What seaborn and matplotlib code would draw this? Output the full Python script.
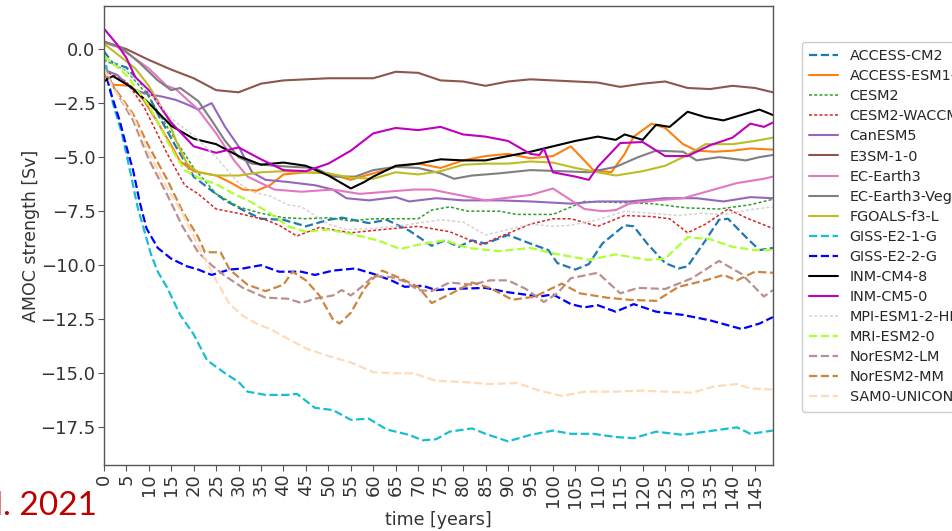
import matplotlib
matplotlib.use("Agg")
import matplotlib.pyplot as plt
import numpy as np
import pandas as pd
import seaborn as sns

# ---- AMOC strength anomaly [Sv] per model: years and values ----
years_access_cm2 = [0, 2, 5, 9, 12, 16, 20, 24, 27, 31, 35, 40, 45, 50, 53, 59, 63, 68, 73, 76, 79, 82, 85, 90, 95, 99, 101, 105, 108, 111, 116, 118, 121, 125, 128, 130, 134, 137, 139, 143, 146, 149]
amoc_access_cm2 = [-0.1, -0.65, -0.85, -1.75, -3.0, -4.5, -5.9, -6.55, -7.0, -7.45, -7.85, -7.9, -8.2, -7.9, -7.8, -8.05, -7.9, -8.4, -9.1, -8.85, -9.15, -8.85, -9.0, -8.6, -9.0, -9.3, -9.9, -10.2, -9.95, -9.0, -8.15, -8.2, -9.0, -9.9, -10.15, -10.05, -8.85, -7.9, -7.85, -8.7, -9.3, -9.2]

years_access_esm = [0, 2, 6, 9, 12, 15, 17, 20, 25, 28, 31, 34, 37, 40, 45, 50, 55, 60, 65, 70, 75, 80, 85, 90, 95, 100, 104, 107, 109, 113, 116, 118, 122, 125, 129, 132, 136, 140, 144, 149]
amoc_access_esm = [-1.2, -1.65, -1.7, -2.4, -3.4, -4.45, -5.2, -5.65, -5.85, -6.15, -6.5, -6.55, -6.3, -5.8, -5.7, -5.75, -6.05, -5.75, -5.45, -5.3, -5.5, -5.15, -4.95, -4.85, -5.05, -4.95, -4.5, -5.15, -5.6, -5.7, -4.85, -4.05, -3.45, -3.65, -4.4, -4.7, -4.75, -4.7, -4.6, -4.65]

years_cesm2 = [0, 5, 10, 15, 20, 25, 30, 35, 40, 45, 50, 55, 60, 65, 70, 73, 77, 81, 88, 92, 100, 107, 115, 122, 130, 137, 144, 149]
amoc_cesm2 = [-0.5, -1.0, -2.2, -3.9, -5.5, -6.7, -7.3, -7.6, -7.8, -7.85, -7.8, -7.95, -7.85, -7.85, -7.85, -7.45, -7.3, -7.5, -7.5, -7.65, -7.65, -7.05, -7.1, -7.15, -7.35, -7.4, -7.2, -6.95]

years_cesm2_waccm = [0, 5, 9, 14, 18, 21, 25, 30, 36, 39, 43, 48, 55, 62, 70, 77, 84, 88, 95, 100, 104, 110, 116, 122, 126, 130, 134, 139, 143, 149]
amoc_cesm2_waccm = [-1.0, -1.5, -2.7, -4.8, -6.3, -6.7, -7.4, -7.6, -7.9, -8.15, -8.65, -8.25, -8.5, -8.35, -8.2, -8.45, -9.05, -8.7, -8.1, -7.85, -7.85, -8.2, -7.7, -7.75, -7.85, -8.5, -8.1, -7.4, -7.8, -8.3]

years_canesm5 = [0, 3, 6, 9, 13, 16, 19, 21, 24, 27, 30, 33, 36, 41, 47, 51, 54, 59, 65, 68, 74, 80, 88, 95, 104, 110, 117, 125, 132, 138, 144, 149]
amoc_canesm5 = [-0.95, -1.2, -1.8, -2.05, -2.2, -2.35, -2.6, -2.8, -2.5, -3.6, -4.5, -5.7, -6.05, -6.15, -6.3, -6.5, -6.9, -7.0, -6.85, -7.05, -6.9, -7.0, -7.0, -7.05, -7.15, -7.05, -7.05, -6.9, -6.9, -7.05, -6.85, -6.9]

years_e3sm = [0, 5, 10, 15, 20, 25, 30, 35, 40, 45, 50, 55, 60, 65, 70, 75, 80, 85, 90, 95, 100, 105, 110, 115, 120, 125, 130, 135, 140, 145, 149]
amoc_e3sm = [0.35, 0.0, -0.5, -0.95, -1.35, -1.9, -2.0, -1.6, -1.45, -1.4, -1.35, -1.35, -1.35, -1.05, -1.1, -1.45, -1.5, -1.7, -1.5, -1.4, -1.45, -1.5, -1.55, -1.75, -1.6, -1.5, -1.8, -1.85, -1.7, -1.8, -2.0]

years_ec_earth3 = [0, 3, 6, 10, 14, 16, 21, 25, 29, 32, 35, 38, 44, 51, 57, 63, 69, 73, 79, 85, 91, 95, 100, 103, 107, 111, 114, 117, 123, 129, 135, 141, 147, 149]
amoc_ec_earth3 = [0.3, 0.1, -0.3, -0.9, -1.7, -1.85, -2.8, -3.9, -5.15, -5.9, -6.2, -6.5, -6.6, -6.5, -6.7, -6.6, -6.5, -6.5, -6.75, -7.0, -6.85, -6.75, -6.45, -6.85, -7.4, -7.5, -7.45, -7.15, -7.0, -6.9, -6.55, -6.2, -6.0, -5.9]

years_ec_earth3_veg = [0, 4, 8, 12, 15, 17, 21, 24, 27, 30, 33, 38, 42, 47, 51, 56, 60, 65, 70, 75, 78, 82, 88, 95, 102, 108, 114, 119, 123, 129, 132, 137, 143, 146, 149]
amoc_ec_earth3_veg = [0.35, 0.05, -0.65, -1.45, -1.9, -1.8, -2.4, -3.3, -4.25, -5.0, -5.3, -5.4, -5.45, -5.5, -5.9, -5.9, -5.6, -5.45, -5.5, -5.75, -6.0, -5.85, -5.75, -5.6, -5.65, -5.7, -5.45, -5.0, -4.7, -4.75, -5.15, -5.0, -5.15, -5.0, -4.9]

years_fgoals = [0, 4, 7, 10, 14, 16, 18.5, 21, 25, 30, 35, 40, 45, 50, 55, 60, 65, 70, 75, 80, 85, 90, 95, 100, 105, 110, 114, 120, 125, 130, 134, 140, 145, 149]
amoc_fgoals = [0.25, -0.4, -0.9, -1.7, -3.1, -4.2, -5.3, -5.7, -5.85, -5.85, -5.7, -5.65, -5.7, -5.75, -5.95, -6.0, -5.7, -5.8, -5.65, -5.35, -5.3, -5.3, -5.2, -5.25, -5.5, -5.7, -5.85, -5.65, -5.4, -4.9, -4.4, -4.4, -4.25, -4.1]

years_giss_e2_1_g = [0, 2, 4, 6, 7.5, 9, 10.5, 12, 14, 17, 20, 23, 27, 30, 32, 36, 41, 43, 47, 51, 55, 59, 63, 68, 71, 74, 77, 82, 85, 90, 95, 100, 104, 109, 114, 118, 123, 129, 134, 141, 144, 149]
amoc_giss_e2_1_g = [-0.2, -2.5, -3.9, -5.8, -7.3, -8.4, -9.5, -10.3, -11.0, -12.3, -13.2, -14.4, -15.0, -15.4, -15.85, -16.0, -16.0, -15.95, -16.6, -16.7, -17.15, -17.1, -17.6, -17.85, -18.1, -18.05, -17.7, -17.55, -17.8, -18.15, -17.85, -17.65, -17.8, -17.8, -17.95, -18.0, -17.7, -17.85, -17.7, -17.5, -17.8, -17.65]

years_giss_e2_2_g = [0, 1.5, 3.5, 5, 6.5, 8, 9.5, 12, 15, 18.5, 21, 24, 28, 31, 35, 39, 44, 47, 51, 56, 60, 64, 67, 71, 74, 77, 85, 90, 97, 100, 104, 107, 110, 114, 118, 123, 129, 135, 142, 146, 149]
amoc_giss_e2_2_g = [-0.8, -2.0, -3.3, -4.5, -5.6, -7.1, -8.3, -9.2, -9.7, -10.05, -10.2, -10.45, -10.2, -10.15, -10.0, -10.3, -10.3, -10.45, -10.25, -10.15, -10.4, -10.7, -11.0, -10.95, -11.15, -11.1, -11.05, -11.25, -11.45, -11.35, -11.8, -11.95, -11.85, -12.15, -11.8, -12.15, -12.3, -12.55, -12.95, -12.7, -12.4]

years_inm_cm4_8 = [0, 2, 6, 10, 15, 20, 25, 30, 35, 40, 45, 50, 55, 58, 60, 65, 70, 75, 80, 85, 90, 95, 100, 105, 110, 114, 116, 120, 123, 126, 130, 134, 138, 142, 146, 149]
amoc_inm_cm4_8 = [-1.5, -1.25, -1.75, -2.5, -3.55, -4.15, -4.4, -4.95, -5.35, -5.25, -5.4, -5.85, -6.45, -6.15, -5.9, -5.4, -5.3, -5.1, -5.15, -5.15, -4.95, -4.75, -4.5, -4.25, -4.05, -4.2, -3.95, -4.2, -3.5, -3.6, -2.9, -3.15, -3.3, -3.05, -2.8, -3.05]

years_inm_cm5_0 = [0, 3, 5, 7, 10, 15, 20, 25, 30, 35, 40, 45, 50, 55, 60, 65, 70, 75, 80, 85, 90, 95, 97, 98, 100, 105, 108, 110, 115, 120, 125, 130, 135, 140, 144, 147, 149]
amoc_inm_cm5_0 = [0.95, 0.2, -0.4, -1.3, -1.9, -3.4, -4.5, -4.8, -4.55, -5.1, -5.6, -5.65, -5.3, -4.7, -3.9, -3.65, -3.75, -3.6, -3.95, -4.05, -4.25, -4.85, -4.9, -4.6, -5.7, -5.9, -6.05, -5.45, -4.35, -4.3, -4.95, -4.95, -4.45, -4.1, -3.45, -3.6, -3.4]

years_mpi = [0, 5, 10, 15, 20, 25, 30, 33, 37, 41, 44, 47, 50, 54, 60, 65, 70, 75, 80, 85, 90, 95, 100, 104, 110, 116, 122, 128, 133, 138, 145, 149]
amoc_mpi = [-0.4, -1.0, -2.0, -3.2, -4.0, -5.0, -6.2, -6.6, -6.8, -7.2, -7.3, -7.7, -8.1, -8.35, -8.3, -8.2, -8.05, -7.9, -8.0, -8.6, -8.35, -8.1, -8.2, -8.15, -7.9, -7.5, -7.6, -7.7, -7.6, -7.65, -7.4, -7.3]

years_mri = [0, 5, 10, 15, 18, 21, 25, 29, 33, 37, 41, 45, 50, 55, 61, 66, 70, 76, 81, 88, 95, 100, 104, 108, 114, 121, 125, 130, 135, 140, 145, 149]
amoc_mri = [-0.3, -1.2, -2.6, -4.6, -5.6, -5.95, -6.25, -6.7, -7.1, -7.6, -8.2, -8.45, -8.35, -8.55, -8.85, -9.25, -9.05, -8.85, -9.2, -9.35, -9.2, -9.45, -9.6, -9.75, -9.5, -9.75, -9.7, -8.7, -8.8, -9.15, -9.3, -9.3]

years_noresm2_lm = [0, 2, 6.5, 10, 14, 17.5, 21, 24, 27, 31, 36, 41, 44, 47, 51, 53, 55, 58, 60, 64, 67, 70, 73, 77, 82, 86, 90, 94, 98, 101, 104, 110, 115, 119, 125, 131, 137, 142, 147, 149]
amoc_noresm2_lm = [-0.8, -1.7, -3.3, -5.1, -6.7, -8.2, -9.4, -10.0, -10.5, -11.05, -11.5, -11.55, -11.75, -11.55, -11.4, -11.15, -11.4, -10.9, -10.5, -10.55, -10.75, -11.15, -11.2, -10.8, -10.9, -10.7, -10.7, -11.1, -11.7, -11.3, -10.6, -10.35, -11.3, -11.05, -11.1, -10.6, -9.8, -10.4, -11.45, -11.15]

years_noresm2_mm = [0, 2, 6.5, 10, 14, 17.5, 21, 22.5, 26, 28, 32, 36, 40, 42, 45, 48, 51, 52.5, 55, 58, 60, 62, 66, 70, 73, 77, 82, 86, 91, 96, 102, 106, 112, 117, 123, 128, 134, 138, 141, 145, 149]
amoc_noresm2_mm = [-1.0, -1.7, -3.0, -4.5, -6.0, -7.5, -8.7, -9.4, -9.4, -10.2, -10.9, -11.2, -10.9, -10.3, -10.7, -11.4, -12.5, -12.7, -12.2, -11.1, -10.6, -10.25, -10.6, -11.0, -11.75, -11.35, -10.8, -11.05, -11.6, -11.45, -10.85, -11.3, -11.5, -11.6, -11.65, -11.0, -10.7, -10.45, -10.7, -10.3, -10.35]

years_sam0 = [0, 2, 6.5, 10, 14, 17.5, 21, 25, 28, 31, 34, 37, 41, 45, 50, 55, 60, 65, 69, 74, 80, 86, 92, 97, 102, 107, 114, 120, 125, 131, 136, 141, 144, 149]
amoc_sam0 = [-0.9, -1.8, -3.1, -4.8, -6.4, -7.6, -9.1, -10.7, -11.8, -12.35, -12.7, -12.95, -13.4, -13.85, -14.2, -14.5, -14.95, -15.0, -15.0, -15.35, -15.4, -15.5, -15.45, -15.8, -16.05, -15.85, -15.85, -15.8, -15.85, -15.9, -15.6, -15.5, -15.7, -15.75]

models = ["ACCESS-CM2", "ACCESS-ESM1-5", "CESM2", "CESM2-WACCM", "CanESM5", "E3SM-1-0",
          "EC-Earth3", "EC-Earth3-Veg", "FGOALS-f3-L", "GISS-E2-1-G", "GISS-E2-2-G",
          "INM-CM4-8", "INM-CM5-0", "MPI-ESM1-2-HR", "MRI-ESM2-0", "NorESM2-LM",
          "NorESM2-MM", "SAM0-UNICON"]

series = {
    "ACCESS-CM2": (years_access_cm2, amoc_access_cm2),
    "ACCESS-ESM1-5": (years_access_esm, amoc_access_esm),
    "CESM2": (years_cesm2, amoc_cesm2),
    "CESM2-WACCM": (years_cesm2_waccm, amoc_cesm2_waccm),
    "CanESM5": (years_canesm5, amoc_canesm5),
    "E3SM-1-0": (years_e3sm, amoc_e3sm),
    "EC-Earth3": (years_ec_earth3, amoc_ec_earth3),
    "EC-Earth3-Veg": (years_ec_earth3_veg, amoc_ec_earth3_veg),
    "FGOALS-f3-L": (years_fgoals, amoc_fgoals),
    "GISS-E2-1-G": (years_giss_e2_1_g, amoc_giss_e2_1_g),
    "GISS-E2-2-G": (years_giss_e2_2_g, amoc_giss_e2_2_g),
    "INM-CM4-8": (years_inm_cm4_8, amoc_inm_cm4_8),
    "INM-CM5-0": (years_inm_cm5_0, amoc_inm_cm5_0),
    "MPI-ESM1-2-HR": (years_mpi, amoc_mpi),
    "MRI-ESM2-0": (years_mri, amoc_mri),
    "NorESM2-LM": (years_noresm2_lm, amoc_noresm2_lm),
    "NorESM2-MM": (years_noresm2_mm, amoc_noresm2_mm),
    "SAM0-UNICON": (years_sam0, amoc_sam0),
}

# colour, line style, line width per model
DASH = (0, (3.7, 1.6))
DOT = (0, (2.0, 1.4))
SOLID = "-"
styles = {
    "ACCESS-CM2": ("#1f77b4", DASH, 1.6),
    "ACCESS-ESM1-5": ("#ff7f0e", SOLID, 1.5),
    "CESM2": ("#2ca02c", DOT, 1.1),
    "CESM2-WACCM": ("#d62728", DOT, 1.1),
    "CanESM5": ("#9467bd", SOLID, 1.5),
    "E3SM-1-0": ("#8c564b", SOLID, 1.5),
    "EC-Earth3": ("#e377c2", SOLID, 1.5),
    "EC-Earth3-Veg": ("#7f7f7f", SOLID, 1.5),
    "FGOALS-f3-L": ("#bcbd22", SOLID, 1.5),
    "GISS-E2-1-G": ("#17becf", DASH, 1.6),
    "GISS-E2-2-G": ("#0000ff", DASH, 1.6),
    "INM-CM4-8": ("black", SOLID, 1.5),
    "INM-CM5-0": ("#bf00bf", SOLID, 1.5),
    "MPI-ESM1-2-HR": ("lightgray", DOT, 1.1),
    "MRI-ESM2-0": ("greenyellow", DASH, 1.6),
    "NorESM2-LM": ("rosybrown", DASH, 1.6),
    "NorESM2-MM": ("peru", DASH, 1.6),
    "SAM0-UNICON": ("peachpuff", DASH, 1.6),
}

sns.set_style("ticks")
plt.rcParams["font.family"] = ["DejaVu Sans"]

fig = plt.figure(figsize=(9.53, 5.31), dpi=100)
ax = fig.add_axes([0.109, 0.124, 0.702, 0.865])

for name in models:
    yrs, vals = series[name]
    df = pd.DataFrame({"time": yrs, "amoc": vals})
    color, ls, lw = styles[name]
    sns.lineplot(data=df, x="time", y="amoc", ax=ax, color=color,
                 linestyle=ls, linewidth=lw, label=name, sort=False)

ax.set_xlim(0, 149)
ax.set_ylim(-19.25, 2.0)
ax.set_xticks(np.arange(0, 150, 5))
ax.set_yticks(np.arange(0.0, -18.0, -2.5))
ax.tick_params(axis="x", labelrotation=90, labelsize=13, length=4, color="#555555", pad=2)
ax.tick_params(axis="y", labelsize=13, length=4, color="#555555", pad=2)
for lab in ax.get_xticklabels() + ax.get_yticklabels():
    lab.set_color("#333333")
for sp in ax.spines.values():
    sp.set_visible(True)
    sp.set_color("#555555")
    sp.set_linewidth(1.0)

ax.set_xlabel("time [years]", fontsize=12.5, color="#333333", labelpad=2)
ax.set_ylabel("AMOC strength [Sv]", fontsize=12.5, color="#333333", labelpad=0)

ax.get_legend().remove()
handles, labels = ax.get_legend_handles_labels()
fig.legend(handles, labels, loc="upper left", bbox_to_anchor=(0.8416, 0.921),
           bbox_transform=fig.transFigure, borderaxespad=0, fontsize=10.4,
           labelspacing=0.42, handlelength=2.0, frameon=True, fancybox=True,
           edgecolor="#cccccc", framealpha=1.0, borderpad=0.5)

fig.text(0.102, 0.048, "l. 2021", color="#c00000", fontsize=24,
         family=["Lato", "DejaVu Sans"], ha="right", va="center")

fig.savefig("out.png", dpi=100)
